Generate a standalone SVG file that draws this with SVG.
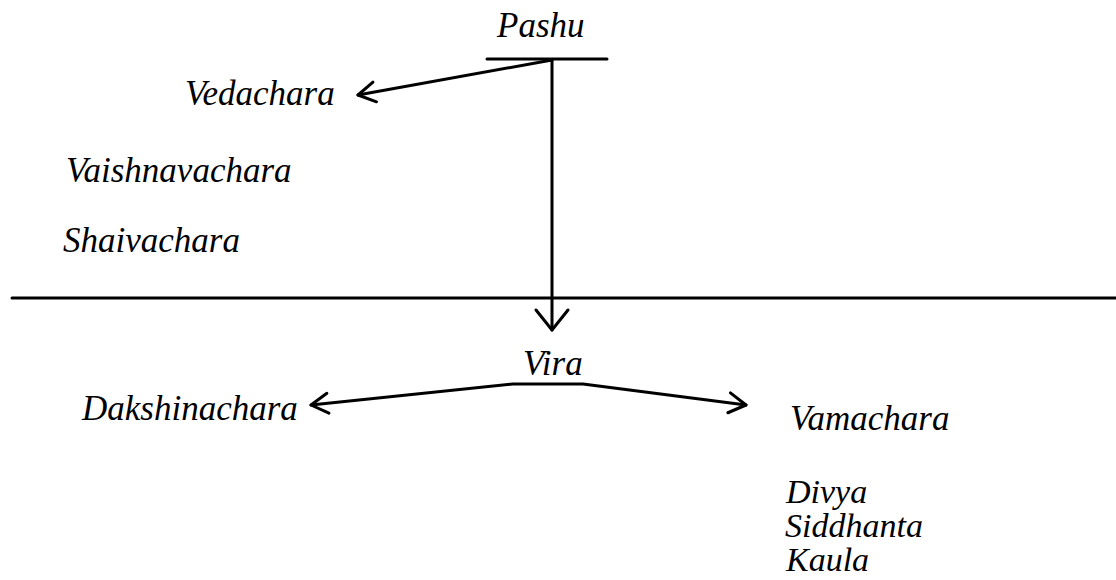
<svg xmlns="http://www.w3.org/2000/svg" width="1116" height="580" viewBox="0 0 1116 580">
  <style>
    .ln { stroke: #000; stroke-width: 3; fill: none; stroke-linecap: round; stroke-linejoin: round; }
  </style>
  <defs>
    <marker id="ah" markerUnits="userSpaceOnUse" viewBox="-22 -14 26 28" refX="0" refY="0" markerWidth="26" markerHeight="28" orient="auto-start-reverse">
      <path d="M-17,-10 L0,0 L-17,10" fill="none" stroke="#000" stroke-width="3" stroke-linecap="round" stroke-linejoin="round"/>
    </marker>
    <marker id="ahL" markerUnits="userSpaceOnUse" viewBox="-26 -20 30 40" refX="0" refY="0" markerWidth="30" markerHeight="40" orient="auto">
      <path d="M-20,-16 L0,0 L-20,16" fill="none" stroke="#000" stroke-width="3" stroke-linecap="round" stroke-linejoin="round"/>
    </marker>
  </defs>
  <rect width="1116" height="580" fill="#fff"/>

  <line id="divider" class="ln" x1="12" y1="298" x2="1116" y2="298" stroke-linecap="butt"/>

  <g id="connectors">
    <line class="ln" x1="487" y1="59" x2="607" y2="59" stroke-width="3.5"/>
    <line class="ln" x1="552" y1="60" x2="358" y2="95" marker-end="url(#ah)"/>
    <line class="ln" x1="552" y1="60" x2="552" y2="330" marker-end="url(#ahL)"/>
    <path class="ln" d="M311,405 L513,384 L583,384 L746,405" marker-start="url(#ah)" marker-end="url(#ah)"/>
  </g>

  <g font-size="35" fill="#000">
    <g id="pashu"><text x="497" y="37" font-family="serif" font-style="italic">Pashu</text></g>
    <g id="vedachara"><text x="185" y="105" font-family="serif" font-style="italic">Vedachara</text></g>
    <g id="vaishnavachara"><text x="66" y="182" font-family="serif" font-style="italic">Vaishnavachara</text></g>
    <g id="shaivachara"><text x="63" y="252" font-family="serif" font-style="italic">Shaivachara</text></g>
    <g id="vira"><text x="523" y="375" font-family="serif" font-style="italic">Vira</text></g>
    <g id="dakshinachara"><text x="82" y="420" font-family="serif" font-style="italic">Dakshinachara</text></g>
    <g id="vamachara"><text x="790" y="430" font-family="serif" font-style="italic">Vamachara</text></g>
    <g id="vamachara-list" font-size="34">
      <text x="786" y="503" font-family="serif" font-style="italic">Divya</text>
      <text x="785" y="537" font-family="serif" font-style="italic">Siddhanta</text>
      <text x="786" y="571" font-family="serif" font-style="italic">Kaula</text>
    </g>
  </g>
</svg>
